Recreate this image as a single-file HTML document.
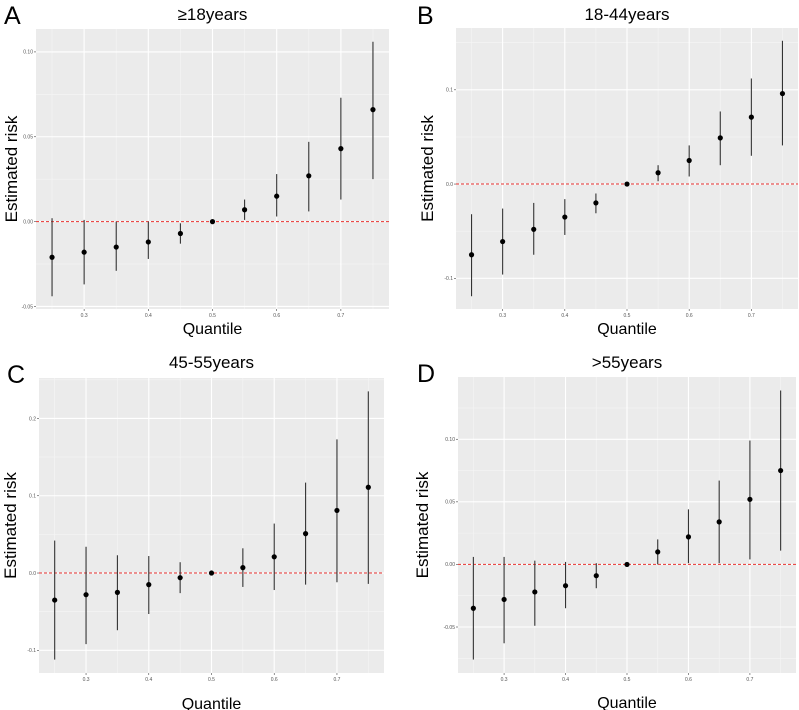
<!DOCTYPE html>
<html><head><meta charset="utf-8">
<style>
html,body{margin:0;padding:0;background:#fff;}
svg{display:block;font-family:"Liberation Sans",sans-serif;}
</style></head>
<body>
<svg id="c" width="799" height="710" viewBox="0 0 799 710"></svg>
<script>
const quantiles=[0.25,0.30,0.35,0.40,0.45,0.50,0.55,0.60,0.65,0.70,0.75];
const xTicks=[0.3,0.4,0.5,0.6,0.7];
const xTickLabels=["0.3","0.4","0.5","0.6","0.7"];

const estA=[-0.021,-0.018,-0.015,-0.012,-0.007,0,0.007,0.015,0.027,0.043,0.066];
const lowA=[-0.044,-0.037,-0.029,-0.022,-0.013,0,0.001,0.003,0.006,0.013,0.025];
const highA=[0.002,0.001,0,0,-0.001,0,0.013,0.028,0.047,0.073,0.106];
const yTicksA=[-0.05,0,0.05,0.1];
const yTickLabelsA=["-0.05","0.00","0.05","0.10"];

const estB=[-0.075,-0.061,-0.048,-0.035,-0.020,0,0.012,0.025,0.049,0.071,0.096];
const lowB=[-0.119,-0.096,-0.075,-0.054,-0.031,0,0.003,0.008,0.020,0.030,0.041];
const highB=[-0.032,-0.026,-0.020,-0.016,-0.010,0,0.020,0.041,0.077,0.112,0.152];
const yTicksB=[-0.1,0,0.1];
const yTickLabelsB=["-0.1","0.0","0.1"];

const estC=[-0.035,-0.028,-0.025,-0.015,-0.006,0,0.007,0.021,0.051,0.081,0.111];
const lowC=[-0.112,-0.092,-0.074,-0.053,-0.026,0,-0.018,-0.022,-0.015,-0.012,-0.014];
const highC=[0.042,0.034,0.023,0.022,0.014,0,0.032,0.064,0.117,0.173,0.235];
const yTicksC=[-0.1,0,0.1,0.2];
const yTickLabelsC=["-0.1","0.0","0.1","0.2"];

const estD=[-0.035,-0.028,-0.022,-0.017,-0.009,0,0.010,0.022,0.034,0.052,0.075];
const lowD=[-0.076,-0.063,-0.049,-0.035,-0.019,0,0,0.001,0.001,0.004,0.011];
const highD=[0.006,0.006,0.003,0.002,0.001,0,0.020,0.044,0.067,0.099,0.139];
const yTicksD=[-0.05,0,0.05,0.1];
const yTickLabelsD=["-0.05","0.00","0.05","0.10"];

const NS="http://www.w3.org/2000/svg";
const svg=document.getElementById('c');
function mk(tag,attrs,parent){const e=document.createElementNS(NS,tag);for(const k in attrs)e.setAttribute(k,attrs[k]);(parent||svg).appendChild(e);return e;}

const panels=[
 {key:'a',letter:'A',title:'≥18years',est:estA,low:lowA,high:highA,yt:yTicksA,ytl:yTickLabelsA,x0:36,x1:389,y0:29,y1:309,lx:4,ly:24,ty:20,yx:17,xy:334},
 {key:'b',letter:'B',title:'18-44years',est:estB,low:lowB,high:highB,yt:yTicksB,ytl:yTickLabelsB,x0:456,x1:798,y0:28,y1:309,lx:417,ly:24,ty:20,yx:433,xy:334},
 {key:'c',letter:'C',title:'45-55years',est:estC,low:lowC,high:highC,yt:yTicksC,ytl:yTickLabelsC,x0:39,x1:384,y0:378,y1:673,lx:7,ly:383,ty:368,yx:16,xy:709},
 {key:'d',letter:'D',title:'>55years',est:estD,low:lowD,high:highD,yt:yTicksD,ytl:yTickLabelsD,x0:458,x1:796,y0:377,y1:673,lx:417,ly:382,ty:368,yx:428,xy:708}
];

panels.forEach(p=>{
  const g=mk('g',{});
  
  
  const lo=Math.min(...p.low), hi=Math.max(...p.high);
  const pad=(hi-lo)*0.05;
  const ymin=lo-pad, ymax=hi+pad;
  const xmin=0.225, xmax=0.775;
  const X=v=>p.x0+(v-xmin)/(xmax-xmin)*(p.x1-p.x0);
  const Y=v=>p.y1-(v-ymin)/(ymax-ymin)*(p.y1-p.y0);
  const bg=mk('rect',{x:p.x0,y:p.y0,width:p.x1-p.x0,height:p.y1-p.y0,fill:'#ebebeb'},g);
  
  
  const ystep=p.yt[1]-p.yt[0];
  for(let i=-1;i<p.yt.length;i++){
    const v=(i<0?p.yt[0]:p.yt[i])+(i<0?-ystep/2:ystep/2);
    if(v>ymin&&v<ymax){const l=mk('line',{x1:p.x0,x2:p.x1,y1:Y(v),y2:Y(v),stroke:'#f5f5f5','stroke-width':0.6},g);
      }
  }
  for(let i=-1;i<xTicks.length;i++){
    const v=(i<0?xTicks[0]-0.05:xTicks[i]+0.05);
    if(v>xmin&&v<xmax){const l=mk('line',{y1:p.y0,y2:p.y1,x1:X(v),x2:X(v),stroke:'#f5f5f5','stroke-width':0.6},g);
      }
  }
  p.yt.forEach((v,i)=>{
    const l=mk('line',{x1:p.x0,x2:p.x1,y1:Y(v),y2:Y(v),stroke:'#fff','stroke-width':1.1},g);
    
    const tk=mk('line',{x1:p.x0-2,x2:p.x0,y1:Y(v),y2:Y(v),stroke:'#444','stroke-width':0.6},g);
    
    const t=mk('text',{x:p.x0-3,y:Y(v)+1.8,'text-anchor':'end','font-size':5,fill:'#555'},g);
    t.textContent=p.ytl[i];
    
  });
  xTicks.forEach((v,i)=>{
    const l=mk('line',{y1:p.y0,y2:p.y1,x1:X(v),x2:X(v),stroke:'#fff','stroke-width':1.1},g);
    
    const tk=mk('line',{y1:p.y1,y2:p.y1+2,x1:X(v),x2:X(v),stroke:'#444','stroke-width':0.6},g);
    
    const t=mk('text',{x:X(v),y:p.y1+8,'text-anchor':'middle','font-size':5,fill:'#555'},g);
    t.textContent=xTickLabels[i];
    
  });
  const ref=mk('line',{x1:p.x0,x2:p.x1,y1:Y(0),y2:Y(0),stroke:'#e8322f','stroke-width':1,'stroke-dasharray':'3,2'},g);
  
  quantiles.forEach((q,i)=>{
    const e=mk('line',{x1:X(q),x2:X(q),y1:Y(p.low[i]),y2:Y(p.high[i]),stroke:'#333','stroke-width':1.1},g);
    
    const c=mk('circle',{cx:X(q),cy:Y(p.est[i]),r:2.6,fill:'#000'},g);
    
  });
  const L=mk('text',{x:p.lx,y:p.ly,'font-size':25,fill:'#000'},g);
  L.textContent=p.letter;
  const T=mk('text',{x:(p.x0+p.x1)/2,y:p.ty,'text-anchor':'middle','font-size':17,fill:'#000'},g);
  T.textContent=p.title;
  const yc=(p.y0+p.y1)/2;
  const YT=mk('text',{x:p.yx,y:yc,'text-anchor':'middle','font-size':17,fill:'#000',transform:'rotate(-90 '+p.yx+' '+yc+')'},g);
  YT.setAttribute('transform','rotate(-90 '+p.yx+' '+yc+')');
  YT.setAttribute('x',p.yx);YT.setAttribute('y',yc);
  YT.textContent='Estimated risk';
  const XT=mk('text',{x:(p.x0+p.x1)/2,y:p.xy,'text-anchor':'middle','font-size':16,fill:'#000'},g);
  XT.textContent='Quantile';
});
</script>
</body></html>
